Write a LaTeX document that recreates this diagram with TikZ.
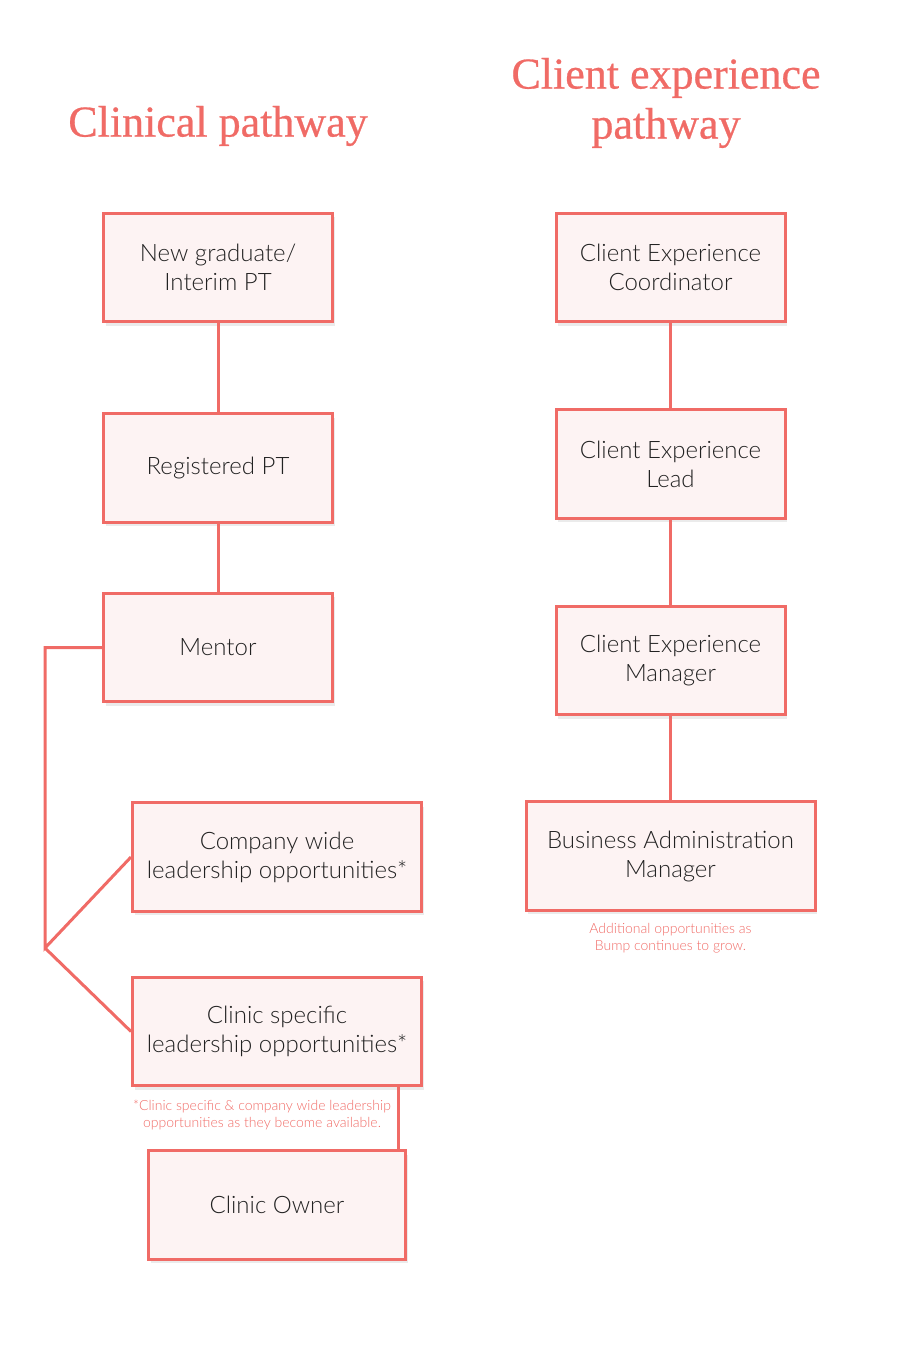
\documentclass[tikz,border=0pt]{standalone}
\usepackage{fontspec}
\setmainfont{Lato}[UprightFont=* Light]
\newfontfamily\titlefont{Liberation Serif}[FakeBold=0.6]
\usepackage{tikz}
\usetikzlibrary{positioning,shadows}
\definecolor{salmon}{HTML}{F06B66}
\definecolor{blush}{HTML}{FDF3F3}
\definecolor{inkgrey}{HTML}{222222}
\tikzset{
	role/.style={
		draw=salmon, line width=3pt, fill=blush,
		text=inkgrey, align=center, inner sep=0pt,
		minimum height=108.5pt,
		font=\fontsize{24}{29}\selectfont,
		drop shadow={shadow xshift=2pt, shadow yshift=-4pt, opacity=0.08, fill=black}
	},
	narrow/.style={role, minimum width=229pt},
	wide/.style={role, minimum width=289pt},
	heading/.style={text=salmon, align=center, font=\titlefont\fontsize{44}{50}\selectfont},
	note/.style={text=salmon, align=center, font=\fontsize{14}{17}\selectfont},
	link/.style={draw=salmon, line width=3pt}
}
\begin{document}
\begin{tikzpicture}[x=1pt, y=-1pt]
	\useasboundingbox (0,0) rectangle (900,1368);
	\node[heading] (lefthead) at (218,126) {Clinical pathway};
	\node[heading] (righthead) at (666,103) {Client experience\\pathway};
	% clinical side
	\node[narrow] (newgrad) at (218,267.5) {New graduate/\\Interim PT};
	\node[narrow] (regpt) [below=89pt of newgrad] {Registered PT};
	\node[narrow] (mentor) [below=68pt of regpt] {Mentor};
	\node[wide] (company) at (277,857) {Company wide\\leadership opportunities*};
	\node[wide] (clinic) [below=63pt of company] {Clinic specific\\leadership opportunities*};
	\node[role, minimum width=257pt] (owner) [below=62pt of clinic] {Clinic Owner};
	\node[note] (clinicnote) at (262,1115) {*Clinic specific \& company wide leadership\\opportunities as they become available.};
	% client experience side
	\node[narrow] (coord) at (670.5,267.5) {Client Experience\\Coordinator};
	\node[narrow] (lead) [below=85pt of coord] {Client Experience\\Lead};
	\node[narrow] (manager) [below=85pt of lead] {Client Experience\\Manager};
	\node[wide] (business) [below=84pt of manager] {Business Administration\\Manager};
	\node[note] (addnote) at (670.5,938) {Additional opportunities as\\Bump continues to grow.};
	\coordinate (fork) at (45,948);
	\draw[link] (newgrad) -- (regpt);
	\draw[link] (regpt) -- (mentor);
	\draw[link] (mentor.west) -| (fork) -- (company.west);
	\draw[link] (fork) -- (clinic.west);
	\draw[link] ([xshift=-25pt]clinic.south east) -- ([xshift=-25pt]clinic.south east |- owner.north);
	\draw[link] (coord) -- (lead);
	\draw[link] (lead) -- (manager);
	\draw[link] (manager) -- (business);
\end{tikzpicture}
\end{document}
